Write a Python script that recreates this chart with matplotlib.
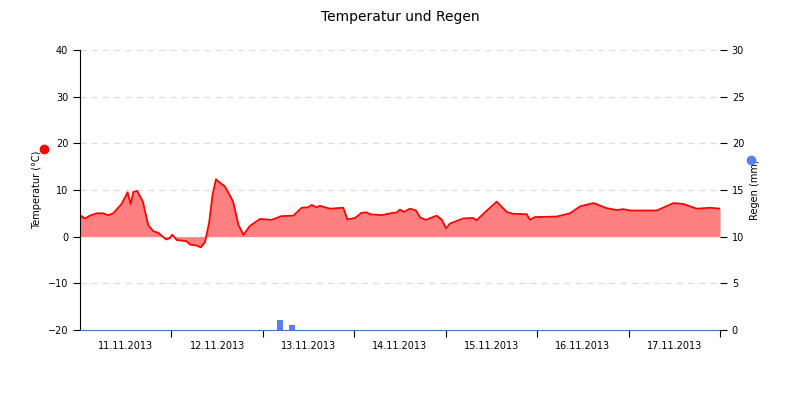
import matplotlib
matplotlib.use("Agg")
import matplotlib.pyplot as plt
from matplotlib.lines import Line2D

hours = [0,1.3,2.6,4.4,6.1,7.4,8.7,10.9,11.8,12.5,13.3,14,15,16.5,17.9,19.2,20.6,22.6,23.6,24.2,25.4,28,28.9,30.6,31.7,32.8,33.9,34.8,35.7,36.8,38,38.9,40.2,41.6,42.9,44.6,47.3,50.3,52.9,56,58.2,59.9,60.8,62.1,63,65.6,69.1,70.2,72.2,73.9,75.3,76.1,79.2,81.4,83.1,84,85,86.6,88.2,89.3,90.8,93.6,95,96.1,97.1,100.6,103.2,104.1,106.8,109.4,112,113.7,117.3,118.1,119.4,125.1,128.6,131.3,134.8,138.3,140.9,142.6,144.4,151.4,155.8,158.4,161.9,165.4,168]
temp = [4.6,3.9,4.5,5.0,5.0,4.6,5.0,7.0,8.4,9.5,7.0,9.6,9.8,7.5,2.5,1.2,0.8,-0.6,-0.3,0.4,-0.7,-1.0,-1.7,-1.9,-2.3,-1.2,3.0,9.0,12.3,11.5,10.8,9.5,7.5,2.5,0.4,2.3,3.8,3.6,4.4,4.5,6.2,6.3,6.8,6.3,6.6,6.0,6.2,3.7,4.0,5.1,5.2,4.8,4.6,5.0,5.2,5.8,5.3,6.0,5.6,4.1,3.6,4.5,3.6,1.8,2.8,3.9,4.0,3.5,5.6,7.5,5.3,4.9,4.8,3.6,4.2,4.3,5.0,6.5,7.2,6.1,5.7,5.9,5.6,5.6,7.2,7.0,6.0,6.2,6.0]
rain_hours = [52.5, 55.6]
rain_mm = [1.1, 0.5]
day_labels = ["11.11.2013","12.11.2013","13.11.2013","14.11.2013","15.11.2013","16.11.2013","17.11.2013"]

fig = plt.figure(figsize=(8,4), dpi=100)
ax = fig.add_axes([0.1, 0.175, 0.8, 0.7])
ax.fill_between(hours, temp, 0, color="#ff8080", lw=0)
ax.plot(hours, temp, color="#ff0000", lw=1.3)
ax.set_xlim(0, 168)
ax.set_ylim(-20, 40)
ax.set_yticks(range(-20, 41, 10))
for v in range(-10, 41, 10):
    if v != 0:
        ax.axhline(v, color="#dddddd", ls=(0,(5,4)), lw=0.9, zorder=0)
ax.set_xticks([24*i for i in range(1, 8)])
ax.set_xticklabels([])
ax.set_xticks([24*i+12 for i in range(7)], minor=True)
ax.set_xticklabels(day_labels, minor=True)
ax.tick_params(axis="x", which="minor", length=0, labelsize=7, pad=8)
ax.tick_params(axis="x", which="major", length=5)
ax.tick_params(axis="y", labelsize=7, length=5)
for s in ["top", "right"]:
    ax.spines[s].set_visible(False)
ax.spines["bottom"].set_color("#4a6fd0")
ax.set_ylabel("Temperatur (°C)", fontsize=7)

ax2 = ax.twinx()
ax2.bar(rain_hours, rain_mm, width=1.5, color="#5b7fe6")
ax2.set_ylim(0, 30)
ax2.set_yticks(range(0, 31, 5))
ax2.tick_params(axis="y", labelsize=7, length=5)
for s in ["top", "left", "bottom"]:
    ax2.spines[s].set_visible(False)
ax2.spines["right"].set_visible(False)
ax2.set_ylabel("Regen (mm)", fontsize=7)

fig.add_artist(Line2D([44/800], [1-149/400], marker="o", color="#ff0000", ms=6, transform=fig.transFigure))
fig.add_artist(Line2D([751/800], [1-160/400], marker="o", color="#5b7fe6", ms=6, transform=fig.transFigure))
fig.suptitle("Temperatur und Regen", fontsize=10, y=0.975)
fig.savefig("out.png", dpi=100)
